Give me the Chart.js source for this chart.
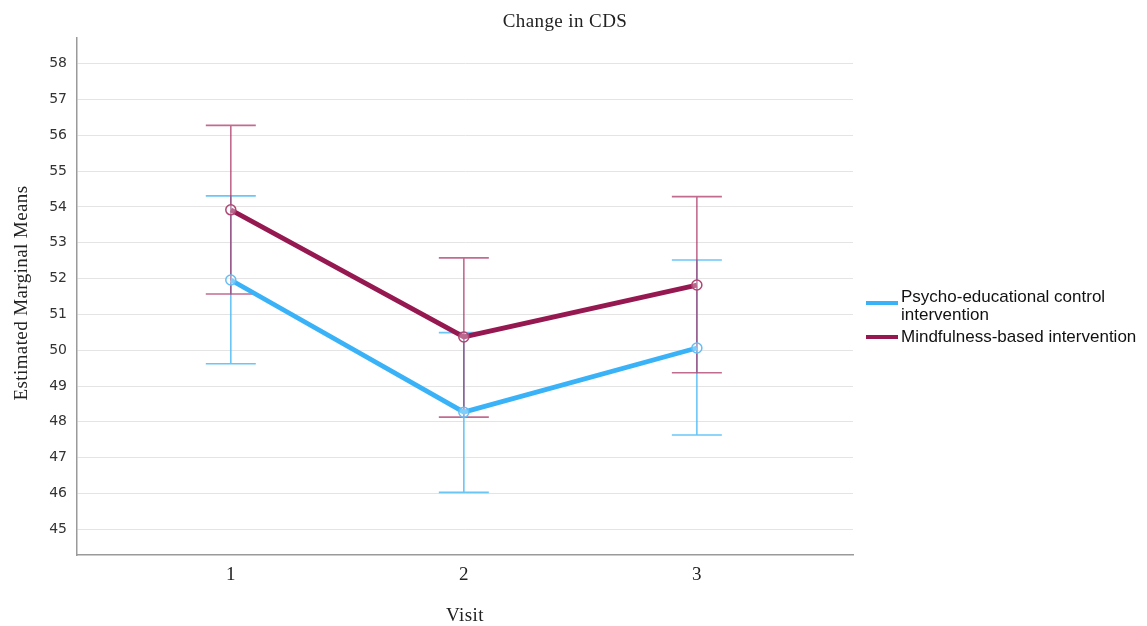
<!DOCTYPE html>
<html>
<head>
<meta charset="utf-8">
<script src="https://cdn.jsdelivr.net/npm/chart.js@4.4.1/dist/chart.umd.min.js"></script>
<style>
  html, body { margin: 0; padding: 0; background: #fff; }
  #wrap { width: 1147px; height: 626px; position: relative; }
</style>
</head>
<body>
<div id="wrap"><canvas id="chart" width="1147" height="626"></canvas></div>
<script>
// Visits on the x axis
const visits = [1, 2, 3];
const yTicks = [45, 46, 47, 48, 49, 50, 51, 52, 53, 54, 55, 56, 57, 58];

// Estimated marginal means with 95% CI bounds
const controlMeans = [51.96, 48.27, 50.06];
const controlLower = [49.62, 46.03, 47.63];
const controlUpper = [54.31, 50.49, 52.52];

const mindfulMeans = [53.92, 50.37, 51.82];
const mindfulLower = [51.57, 48.13, 49.37];
const mindfulUpper = [56.28, 52.58, 54.29];

const seriesNames = [['Psycho-educational control', 'intervention'], ['Mindfulness-based intervention']];

const BLUE = 'rgb(58,178,248)';
const MAROON = 'rgb(150,24,80)';
const serif = '"Liberation Serif", "Times New Roman", serif';
const sans = '"Liberation Sans", Arial, sans-serif';

const errorSets = [
  { lower: controlLower, upper: controlUpper, color: 'rgba(80,188,246,0.85)' },
  { lower: mindfulLower, upper: mindfulUpper, color: 'rgba(170,50,100,0.72)' }
];

// Draws CI whiskers with caps through the chart's scales
const errorBars = {
  id: 'errorBars',
  beforeDatasetsDraw(chart) {
    const { ctx, scales: { x, y } } = chart;
    ctx.save();
    ctx.lineWidth = 1.6;
    errorSets.forEach(set => {
      ctx.strokeStyle = set.color;
      visits.forEach((v, i) => {
        const px = x.getPixelForValue(v);
        const top = y.getPixelForValue(set.upper[i]);
        const bot = y.getPixelForValue(set.lower[i]);
        const half = 25;
        ctx.beginPath();
        ctx.moveTo(px, top); ctx.lineTo(px, bot);
        ctx.moveTo(px - half, top); ctx.lineTo(px + half, top);
        ctx.moveTo(px - half, bot); ctx.lineTo(px + half, bot);
        ctx.stroke();
      });
    });
    ctx.restore();
  }
};

// Title, axis titles and the side legend
const decorations = {
  id: 'decorations',
  afterDraw(chart) {
    const { ctx, chartArea } = chart;
    ctx.save();
    ctx.fillStyle = '#222';
    ctx.textAlign = 'center';
    ctx.textBaseline = 'middle';
    ctx.letterSpacing = '0.4px';
    ctx.font = '19px ' + serif;
    ctx.fillText('Change in CDS', 565, 22);
    ctx.fillText('Visit', (chartArea.left + chartArea.right) / 2, 616);
    ctx.save();
    ctx.translate(22, 293);
    ctx.rotate(-Math.PI / 2);
    ctx.fillText('Estimated Marginal Means', 0, 0);
    ctx.restore();
    ctx.letterSpacing = '0px';

    // legend
    const colors = [BLUE, MAROON];
    const rows = [[303, [297, 315]], [337, [337]]];
    ctx.textAlign = 'left';
    ctx.font = '17px ' + sans;
    ctx.fillStyle = '#111';
    rows.forEach((r, i) => {
      ctx.strokeStyle = colors[i];
      ctx.lineWidth = 4;
      ctx.beginPath();
      ctx.moveTo(866, r[0]); ctx.lineTo(898, r[0]);
      ctx.stroke();
      seriesNames[i].forEach((t, j) => ctx.fillText(t, 901, r[1][j]));
    });
    ctx.restore();
  }
};

const toPoints = arr => visits.map((v, i) => ({ x: v, y: arr[i] }));

new Chart(document.getElementById('chart'), {
  type: 'line',
  data: {
    datasets: [
      {
        label: seriesNames[0].join(' '),
        data: toPoints(controlMeans),
        borderColor: BLUE,
        borderWidth: 4.8,
        pointRadius: 5,
        pointBorderWidth: 1.5,
        pointBorderColor: 'rgb(100,190,245)',
        pointBackgroundColor: 'rgba(255,255,255,0.35)',
        tension: 0
      },
      {
        label: seriesNames[1].join(' '),
        data: toPoints(mindfulMeans),
        borderColor: MAROON,
        borderWidth: 4.8,
        pointRadius: 5,
        pointBorderWidth: 1.5,
        pointBorderColor: 'rgb(175,70,115)',
        pointBackgroundColor: 'rgba(255,255,255,0.35)',
        tension: 0
      }
    ]
  },
  options: {
    responsive: false,
    animation: false,
    layout: { padding: { top: 38, right: 294, left: 0, bottom: 0 } },
    plugins: {
      legend: { display: false },
      title: { display: false },
      tooltip: { enabled: false }
    },
    scales: {
      x: {
        type: 'linear',
        min: 0.34,
        max: 3.67,
        afterBuildTicks: s => { s.ticks = visits.map(v => ({ value: v })); },
        afterFit: s => { s.height = 71; },
        grid: { display: false, drawTicks: false },
        border: { display: true, color: '#9a9a9a', width: 1.5 },
        ticks: { padding: 9, color: '#222', font: { family: serif, size: 19 } }
      },
      y: {
        min: 44.28,
        max: 58.72,
        afterBuildTicks: s => { s.ticks = yTicks.map(v => ({ value: v })); },
        afterFit: s => { s.width = 77; },
        grid: { color: '#e4e4e4', lineWidth: 1, drawTicks: false },
        border: { display: true, color: '#9a9a9a', width: 1.5 },
        ticks: { padding: 10, color: '#333', font: { family: '"DejaVu Sans", sans-serif', size: 14 } }
      }
    }
  },
  plugins: [errorBars, decorations]
});
</script>
</body>
</html>
